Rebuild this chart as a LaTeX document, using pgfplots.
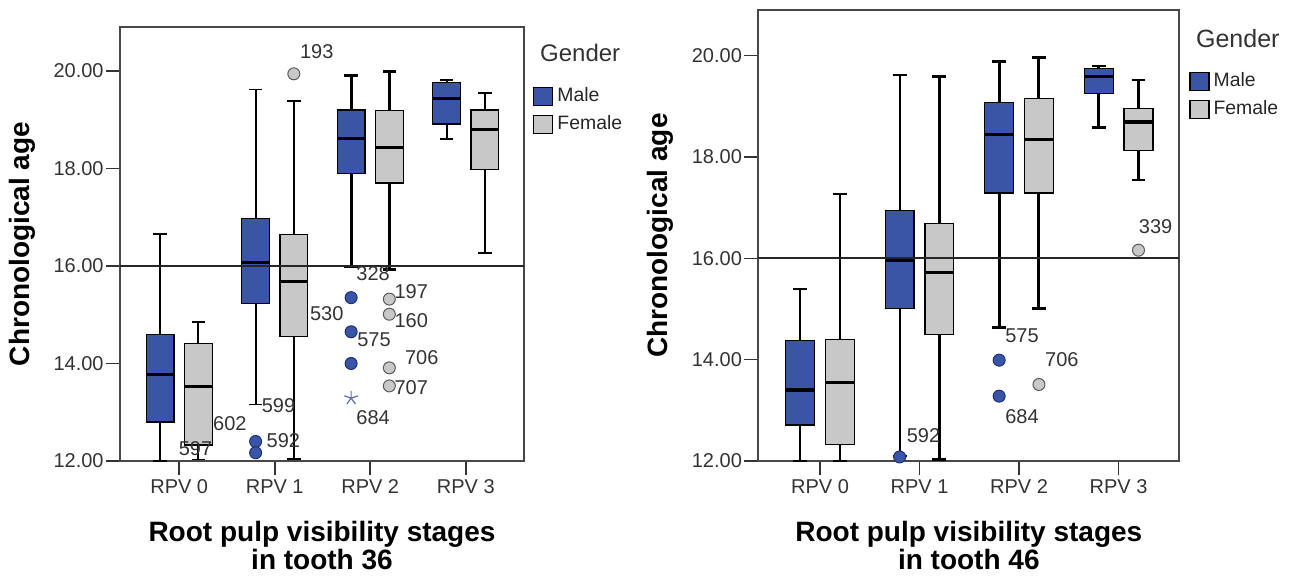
\documentclass[border=0pt]{standalone}
\usepackage{fontspec}
\setmainfont{Liberation Sans}
\usepackage{pgfplots}
\pgfplotsset{compat=1.18}
\usepgfplotslibrary{statistics}
\definecolor{maleblue}{HTML}{3A54A6}
\definecolor{maleedge}{HTML}{1E2F7A}
\definecolor{femgray}{HTML}{C8C8C8}
\definecolor{femedge}{HTML}{5A5A5A}
\definecolor{framegray}{HTML}{484848}

\newcommand{\lbl}{\fontsize{10}{12}\selectfont}

\pgfplotsset{
  rpvaxis/.style={
    scale only axis,
    ymin=12, ymax=20.9,
    xmin=-0.62, xmax=3.61,
    ytick={12,14,16,18,20},
    xtick={0,1,2,3},
    xticklabels={RPV 0,RPV 1,RPV 2,RPV 3},
    tick align=outside,
    xtick pos=bottom, ytick pos=left,
    major tick length=7pt,
    axis line style={draw=framegray, line width=1pt},
    tick style={black!80, line width=0.8pt},
    tick label style={font=\fontsize{10}{12}\selectfont, text=black!80},
    /pgf/number format/assume math mode=true,
    yticklabel style={/tikz/inner sep=1pt, /pgf/number format/.cd, fixed, fixed zerofill, precision=2},
    xticklabel style={/tikz/inner sep=2pt},
    clip=false,
    boxplot/draw direction=y,
    boxplot/box extend=0.29,
    boxplot/whisker extend=0.14,
    boxplot/every median/.style={line width=1.6pt},
    boxplot/every box/.style={draw=black, line width=0.6pt},
    xlabel style={font=\bfseries\fontsize{14}{12}\selectfont, align=center,
      at={(axis description cs:0.5,0)}, anchor=north, yshift=-30pt, inner sep=0pt},
    ylabel style={font=\bfseries\fontsize{14}{16}\selectfont, anchor=center},
    legend style={anchor=north west, draw=none, fill=none, inner sep=0pt,
      font=\fontsize{9.7}{11}\selectfont, text=black!85, row sep=1.5pt},
    legend cell align=left,
  },
  maleleg/.style={legend image code/.code={\draw[draw=black, fill=maleblue, line width=0.6pt] (0pt,-4.5pt) rectangle (9.5pt,4.5pt);}},
  femleg/.style={legend image code/.code={\draw[draw=black, fill=femgray, line width=0.6pt] (0pt,-4.5pt) rectangle (9.5pt,4.5pt);}},
  mbox/.style={fill=maleblue, draw=black, mark=none, solid, line width=0.9pt},
  fbox/.style={fill=femgray, draw=black, mark=none, solid, line width=0.9pt},
  thickw/.style={line width=1.5pt},
  mout/.style={only marks, mark=*, mark size=3pt, mark options={fill=maleblue, draw=maleedge, line width=0.5pt}},
  fout/.style={only marks, mark=*, mark size=3pt, mark options={fill=femgray, draw=femedge, line width=0.5pt}},
}

\begin{document}
\begin{tikzpicture}
\path[use as bounding box] (0,0) rectangle (647pt,-291.5pt);

% tooth 36
\begin{axis}[rpvaxis,
  at={(60pt,-230.5pt)}, anchor=south west,
  width=202pt, height=217pt,
  xlabel={Root pulp visibility stages\\in tooth 36},
  ylabel={Chronological age},
  ylabel style={at={(axis description cs:-0.241,0.5)}},
  legend style={at={(1.022,0.870)}},
]
\addlegendimage{maleleg}\addlegendentry{Male}
\addlegendimage{femleg}\addlegendentry{Female}

\addplot[mbox, boxplot prepared={draw position=-0.2, lower whisker=12.0, lower quartile=12.80, median=13.78, upper quartile=14.60, upper whisker=16.65}] coordinates {};
\addplot[fbox, boxplot prepared={draw position=0.2, lower whisker=12.03, lower quartile=12.33, median=13.52, upper quartile=14.41, upper whisker=14.85}] coordinates {};
\addplot[mbox, boxplot prepared={draw position=0.8, lower whisker=13.16, lower quartile=15.23, median=16.07, upper quartile=16.98, upper whisker=19.62}] coordinates {};
\addplot[fbox, boxplot prepared={draw position=1.2, lower whisker=12.04, lower quartile=14.55, median=15.68, upper quartile=16.65, upper whisker=19.38}] coordinates {};
\addplot[mbox, thickw, boxplot prepared={draw position=1.8, lower whisker=15.99, lower quartile=17.89, median=18.62, upper quartile=19.20, upper whisker=19.90}] coordinates {};
\addplot[fbox, thickw, boxplot prepared={draw position=2.2, lower whisker=15.93, lower quartile=17.70, median=18.43, upper quartile=19.19, upper whisker=19.99}] coordinates {};
\addplot[mbox, boxplot prepared={draw position=2.8, lower whisker=18.60, lower quartile=18.91, median=19.43, upper quartile=19.77, upper whisker=19.82}] coordinates {};
\addplot[fbox, boxplot prepared={draw position=3.2, lower whisker=16.26, lower quartile=17.97, median=18.80, upper quartile=19.20, upper whisker=19.55}] coordinates {};

\addplot[mout] coordinates {(0.8,12.40) (0.8,12.17) (1.8,15.35) (1.8,14.65) (1.8,14.00)};
\addplot[fout] coordinates {(1.2,19.94) (2.2,15.32) (2.2,15.01) (2.2,13.91) (2.2,13.54)};
\addplot[only marks, mark=star, mark size=3.6pt, mark options={draw=maleblue!85, line width=0.6pt}] coordinates {(1.8,13.29)};

\addplot[black!85, line width=1pt] coordinates {(-0.62,16) (3.61,16)};

\node[font=\lbl, text=black!80] at (axis cs:1.44,20.40) {193};
\node[font=\lbl, text=black!80] at (axis cs:2.03,15.84) {328};
\node[font=\lbl, text=black!80] at (axis cs:2.04,14.48) {575};
\node[font=\lbl, text=black!80] at (axis cs:2.03,12.90) {684};
\node[font=\lbl, text=black!80] at (axis cs:2.43,15.47) {197};
\node[font=\lbl, text=black!80] at (axis cs:2.43,14.88) {160};
\node[font=\lbl, text=black!80] at (axis cs:2.54,14.13) {706};
\node[font=\lbl, text=black!80] at (axis cs:2.43,13.51) {707};
\node[font=\lbl, text=black!80] at (axis cs:1.545,15.03) {530};
\node[font=\lbl, text=black!80] at (axis cs:1.04,13.13) {599};
\node[font=\lbl, text=black!80] at (axis cs:1.09,12.42) {592};
\node[font=\lbl, text=black!80] at (axis cs:0.53,12.77) {602};
\node[font=\lbl, text=black!80] at (axis cs:0.17,12.26) {597};

\node[font=\fontsize{12}{14}\selectfont, text=black!80] at (rel axis cs:1.139,0.940) {Gender};
\end{axis}

% tooth 46
\begin{axis}[rpvaxis,
  at={(379.15pt,-230.5pt)}, anchor=south west,
  width=210.5pt, height=225.5pt,
  xlabel={Root pulp visibility stages\\in tooth 46},
  ylabel={Chronological age},
  ylabel style={at={(axis description cs:-0.233,0.5)}},
  legend style={at={(1.023,0.871)}},
]
\addlegendimage{maleleg}\addlegendentry{Male}
\addlegendimage{femleg}\addlegendentry{Female}

\addplot[mbox, boxplot prepared={draw position=-0.2, lower whisker=12.0, lower quartile=12.71, median=13.40, upper quartile=14.38, upper whisker=15.40}] coordinates {};
\addplot[fbox, line width=1.2pt, boxplot prepared={draw position=0.2, lower whisker=12.0, lower quartile=12.32, median=13.55, upper quartile=14.40, upper whisker=17.27}] coordinates {};
\addplot[mbox, boxplot prepared={draw position=0.8, lower whisker=12.10, lower quartile=15.01, median=15.96, upper quartile=16.95, upper whisker=19.61}] coordinates {};
\addplot[fbox, line width=1.2pt, boxplot prepared={draw position=1.2, lower whisker=12.03, lower quartile=14.50, median=15.72, upper quartile=16.68, upper whisker=19.59}] coordinates {};
\addplot[mbox, thickw, boxplot prepared={draw position=1.8, lower whisker=14.63, lower quartile=17.29, median=18.44, upper quartile=19.08, upper whisker=19.89}] coordinates {};
\addplot[fbox, thickw, boxplot prepared={draw position=2.2, lower whisker=15.00, lower quartile=17.29, median=18.34, upper quartile=19.16, upper whisker=19.97}] coordinates {};
\addplot[mbox, line width=1.2pt, boxplot prepared={draw position=2.8, lower whisker=18.58, lower quartile=19.25, median=19.59, upper quartile=19.75, upper whisker=19.79}] coordinates {};
\addplot[fbox, line width=1.2pt, boxplot prepared={draw position=3.2, lower whisker=17.54, lower quartile=18.13, median=18.69, upper quartile=18.95, upper whisker=19.52}] coordinates {};

\addplot[mout] coordinates {(0.8,12.08) (1.8,13.99) (1.8,13.28)};
\addplot[fout] coordinates {(2.2,13.51) (3.2,16.16)};

\addplot[black!85, line width=1pt] coordinates {(-0.62,16) (3.61,16)};

\node[font=\lbl, text=black!80] at (axis cs:2.03,14.47) {575};
\node[font=\lbl, text=black!80] at (axis cs:2.43,14.00) {706};
\node[font=\lbl, text=black!80] at (axis cs:2.03,12.87) {684};
\node[font=\lbl, text=black!80] at (axis cs:1.04,12.51) {592};
\node[font=\lbl, text=black!80, anchor=east] at (axis cs:3.61,16.62) {339};

\node[font=\fontsize{12.5}{14}\selectfont, text=black!80] at (rel axis cs:1.139,0.937) {Gender};
\end{axis}
\end{tikzpicture}
\end{document}
